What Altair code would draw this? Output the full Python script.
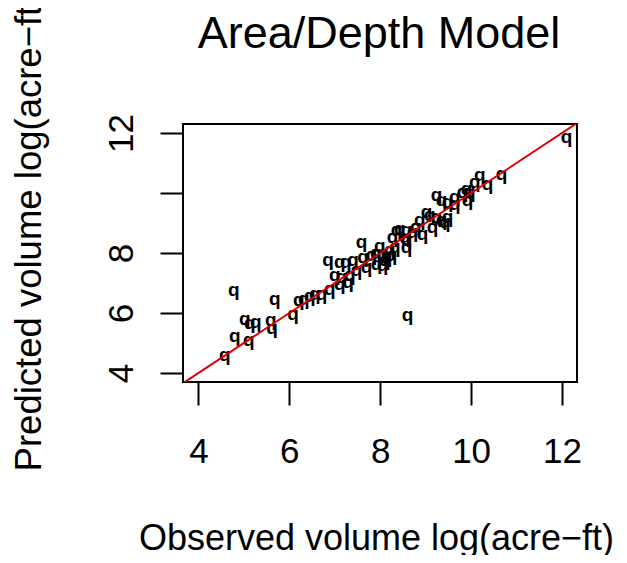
import altair as alt
import pandas as pd

# Observed vs predicted log volume
observed = [4.58, 4.78, 4.80, 5.02, 5.11, 5.13, 5.26, 5.59, 5.62, 5.68,
            6.08, 6.21, 6.32, 6.45, 6.56, 6.71, 6.85, 6.89, 7.00, 7.11,
            7.11, 7.15, 7.24, 7.29, 7.33, 7.40, 7.48, 7.59, 7.62, 7.70,
            7.81, 7.92, 7.99, 8.05, 8.05, 8.14, 8.21, 8.25, 8.27, 8.32,
            8.36, 8.43, 8.58, 8.58, 8.58, 8.60, 8.71, 8.87, 8.93, 9.02,
            9.09, 9.15, 9.24, 9.24, 9.35, 9.35, 9.42, 9.48, 9.48, 9.64,
            9.64, 9.81, 9.90, 9.92, 9.97, 10.08, 10.19, 10.36, 10.67, 12.10,
            7.90, 8.10, 8.54, 8.78]
predicted = [4.50, 6.67, 5.13, 5.70, 5.00, 5.57, 5.60, 5.67, 5.40, 6.37,
             5.87, 6.33, 6.37, 6.47, 6.53, 6.53, 7.67, 6.70, 7.17, 6.87,
             7.60, 7.10, 7.60, 6.93, 7.17, 7.67, 7.33, 8.27, 7.77, 7.43,
             7.83, 7.53, 8.13, 7.83, 7.50, 7.77, 8.00, 7.83, 8.43, 8.10,
             8.67, 8.70, 8.67, 8.33, 8.10, 5.83, 8.60, 9.00, 8.53, 9.27,
             9.17, 8.77, 9.83, 9.10, 9.67, 9.00, 8.93, 9.60, 9.10, 9.53,
             9.77, 9.93, 10.03, 9.67, 9.93, 10.27, 10.50, 10.20, 10.53, 11.77,
             7.90, 7.67, 8.43, 8.77]
line_vals = [3.5, 12.5]
tick_vals = [4, 6, 8, 10, 12]
title_text = ["Area/Depth Model"]

pts = pd.DataFrame({"obs": observed, "pred": predicted})
ref = pd.DataFrame({"obs": line_vals, "pred": line_vals})
ttl = pd.DataFrame({"t": title_text})

FONT = "Liberation Sans"
xscale = alt.Scale(domain=[3.66, 12.33], nice=False, zero=False)
yscale = alt.Scale(domain=[3.70, 12.30], nice=False, zero=False)

xaxis = alt.Axis(values=tick_vals, title="Observed volume log(acre\u2212ft)",
                 grid=False, domain=False, tickSize=23, tickWidth=2, tickColor="black",
                 labelFont=FONT, labelFontSize=35, labelColor="black",
                 labelBaseline="alphabetic", labelPadding=57, labelAlign="center",
                 titleFont=FONT, titleFontSize=36, titleFontWeight="normal", titleColor="black",
                 titleBaseline="alphabetic", titleY=167, titleX=193, labelFlush=False)
yaxis = alt.Axis(values=tick_vals, title="Predicted volume log(acre\u2212ft)",
                 grid=False, domain=False, tickSize=23, tickWidth=2, tickColor="black",
                 labelFont=FONT, labelFontSize=35, labelColor="black",
                 labelAngle=270, labelAlign="center", labelBaseline="alphabetic",
                 labelPadding=28, labelFlush=False,
                 labelExpr="datum.value == 10 ? '' : datum.label",
                 titleFont=FONT, titleFontSize=36.5, titleFontWeight="normal", titleColor="black",
                 titleAngle=270, titleBaseline="alphabetic", titleX=-143, titleY=108)

points = alt.Chart(pts).mark_text(text="q", font=FONT, fontSize=19, fontWeight="bold",
                                  color="black", baseline="alphabetic", dy=3).encode(
    x=alt.X("obs:Q", scale=xscale, axis=xaxis),
    y=alt.Y("pred:Q", scale=yscale, axis=yaxis),
)

line = alt.Chart(ref).mark_line(color="#e00000", strokeWidth=2, clip=True).encode(
    x=alt.X("obs:Q", scale=xscale),
    y=alt.Y("pred:Q", scale=yscale),
)

title = alt.Chart(ttl).mark_text(font=FONT, fontSize=45, color="black",
                                 align="center", baseline="alphabetic").encode(
    text="t:N",
    x=alt.value(196),
    y=alt.value(-76),
)

chart = alt.layer(points, line, title).properties(
    width=394, height=258,
    autosize=alt.AutoSizeParams(type="none"),
    padding={"left": 175, "top": 116, "right": 40, "bottom": 173},
).configure_view(stroke="black", strokeWidth=2)

chart.save("out.html", embed_options={"renderer": "svg", "actions": False})
